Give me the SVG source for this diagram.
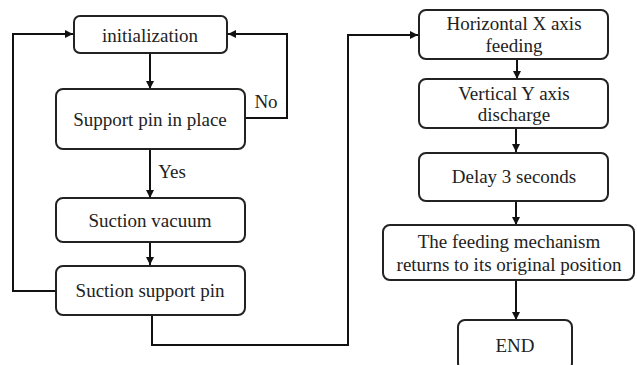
<svg xmlns="http://www.w3.org/2000/svg" width="637" height="365" viewBox="0 0 637 365">
<style>
.box{fill:#fff;stroke:#222;stroke-width:2}
.t{font-size:19px;fill:#222;text-anchor:middle}
.c{fill:none;stroke:#111;stroke-width:2}
</style>
<defs>
<marker id="ah" viewBox="0 0 10 10" refX="10" refY="5" markerWidth="4" markerHeight="4" orient="auto" markerUnits="strokeWidth">
<path d="M0,0 L10,5 L0,10 z" fill="#111"/>
</marker>
</defs>
<rect width="637" height="365" fill="#fff"/>
<g id="connectors">
<path class="c" d="M150,53 V89" marker-end="url(#ah)"/>
<path class="c" d="M245,118 H287 V34 H228" marker-end="url(#ah)"/>
<path class="c" d="M150,149 V198" marker-end="url(#ah)"/>
<path class="c" d="M150,242 V265" marker-end="url(#ah)"/>
<path class="c" d="M56,291 H13 V34 H73" marker-end="url(#ah)"/>
<path class="c" d="M152,315 V345 H348 V35 H418" marker-end="url(#ah)"/>
<path class="c" d="M517,59 V79" marker-end="url(#ah)"/>
<path class="c" d="M516,128 V152" marker-end="url(#ah)"/>
<path class="c" d="M516,201 V225" marker-end="url(#ah)"/>
<path class="c" d="M516,280 V320" marker-end="url(#ah)"/>
</g>
<g font-family="'Liberation Serif', 'DejaVu Serif', serif">
<g id="lbl-no"><text class="t" x="266" y="108">No</text></g>
<g id="lbl-yes"><text class="t" x="172" y="178">Yes</text></g>
<g id="n-init"><rect class="box" x="74" y="16" width="153" height="37" rx="6"/><text class="t" x="150" y="42">initialization</text></g>
<g id="n-support"><rect class="box" x="56" y="89" width="189" height="60" rx="7"/><text class="t" x="150" y="126">Support pin in place</text></g>
<g id="n-vacuum"><rect class="box" x="56" y="198" width="189" height="44" rx="7"/><text class="t" x="150" y="227">Suction vacuum</text></g>
<g id="n-suction"><rect class="box" x="56" y="266" width="189" height="49" rx="7"/><text class="t" x="150" y="297">Suction support pin</text></g>
<g id="n-horiz"><rect class="box" x="419" y="10" width="189" height="49" rx="7"/><text class="t" x="514" y="30">Horizontal X axis</text><text class="t" x="514" y="52">feeding</text></g>
<g id="n-vert"><rect class="box" x="419" y="79" width="189" height="49" rx="7"/><text class="t" x="514" y="100">Vertical Y axis</text><text class="t" x="514" y="121">discharge</text></g>
<g id="n-delay"><rect class="box" x="419" y="153" width="189" height="48" rx="7"/><text class="t" x="514" y="183">Delay 3 seconds</text></g>
<g id="n-return"><rect class="box" x="383" y="225" width="251" height="55" rx="7"/><text class="t" x="509" y="248">The feeding mechanism</text><text class="t" x="509" y="271">returns to its original position</text></g>
<g id="n-end"><rect class="box" x="458" y="320" width="114" height="50" rx="7"/><text class="t" x="515" y="352">END</text></g>
</g>
</svg>
